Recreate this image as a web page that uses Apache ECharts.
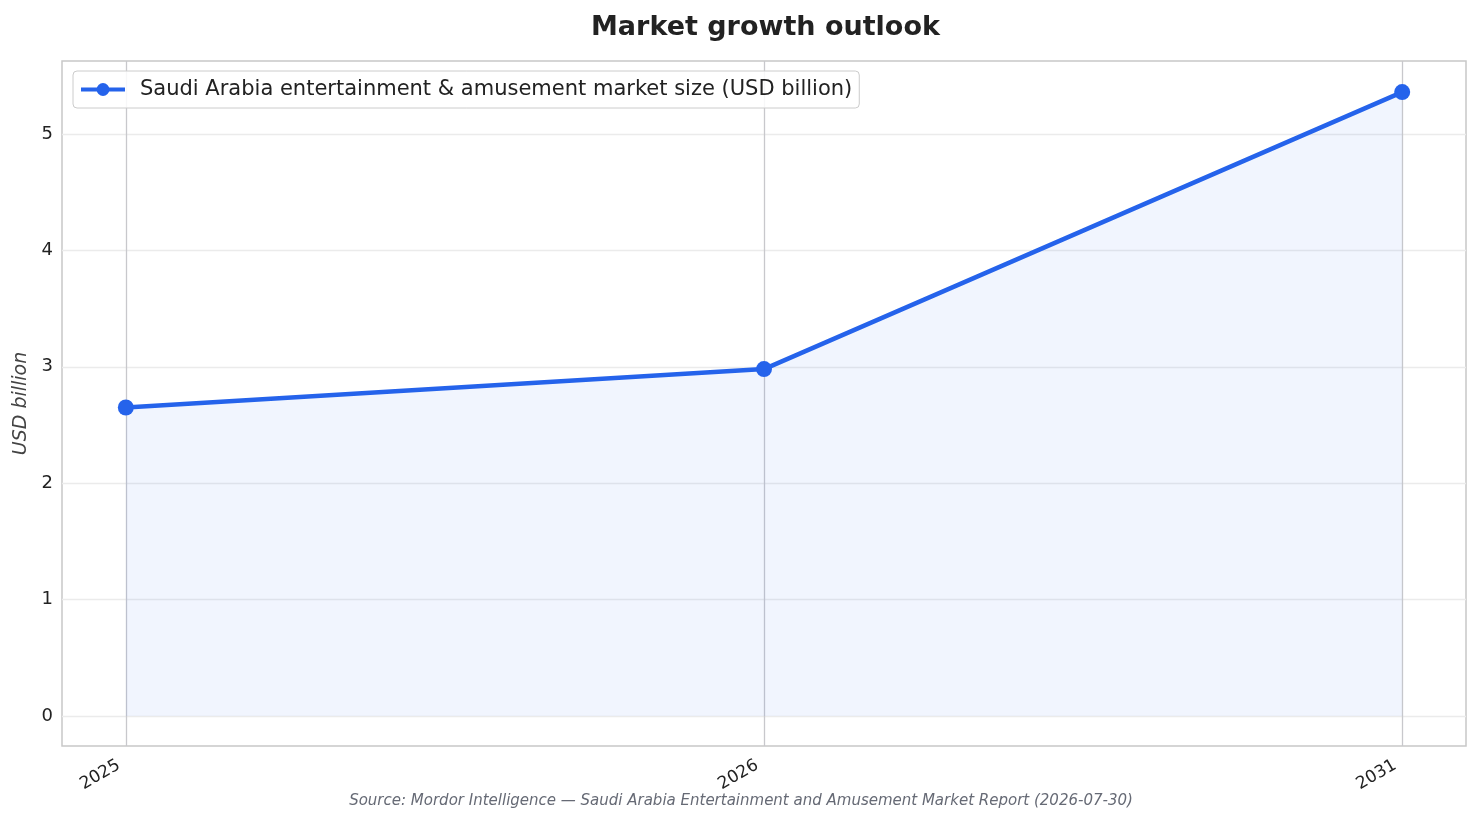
<!DOCTYPE html>
<html>
<head>
<meta charset="utf-8">
<script src="https://cdn.jsdelivr.net/npm/echarts@6/dist/echarts.min.js"></script>
<style>
  html, body { margin: 0; padding: 0; background: #fff; }
  #chart { width: 1482px; height: 824px; }
</style>
</head>
<body>
<div id="chart"></div>
<script>
var years = ['2025', '2026', '2031'];
var marketSize = [2.65, 2.98, 5.36];
var yTicks = [0, 1, 2, 3, 4, 5];

var seriesData = marketSize.map(function (v, i) { return [i, v]; });
var xTicks = years.map(function (y, i) { return i; });

var chart = echarts.init(document.getElementById('chart'));
var font = 'DejaVu Sans, sans-serif';

chart.setOption({
  animation: false,
  backgroundColor: '#fff',
  textStyle: { fontFamily: font },
  title: {
    text: 'Market growth outlook',
    left: 591,
    top: 14,
    padding: 0,
    textStyle: { fontSize: 27, fontWeight: 'bold', color: '#222', fontFamily: font }
  },
  legend: {
    left: 73,
    top: 71,
    padding: [8, 7, 8, 6],
    itemWidth: 44,
    itemHeight: 16,
    borderColor: '#cccccc',
    borderWidth: 1,
    borderRadius: 4,
    backgroundColor: 'rgba(255,255,255,0.85)',
    lineStyle: { width: 4 },
    textStyle: { fontSize: 21, color: '#222', fontFamily: font, padding: [0, 0, 0, 10] }
  },
  grid: {
    left: 62, right: 16, top: 61, bottom: 78,
    outerBoundsMode: 'none',
    containLabel: false,
    show: true,
    borderColor: '#c8c8c8',
    borderWidth: 1.5,
    backgroundColor: 'transparent'
  },
  xAxis: {
    type: 'value',
    min: -0.1,
    max: 2.1,
    axisLine: { show: false },
    axisTick: { show: false, customValues: xTicks },
    axisLabel: {
      customValues: xTicks,
      rotate: 30,
      margin: 14,
      padding: [0, 8, 0, 0],
      fontSize: 17,
      color: '#222',
      fontFamily: font,
      formatter: function (v) { return years[Math.round(v)]; }
    },
    splitLine: { show: true, lineStyle: { color: '#c8c8cc', width: 1.3 } }
  },
  yAxis: {
    type: 'value',
    min: -0.258,
    max: 5.627,
    name: 'USD billion',
    nameLocation: 'middle',
    nameGap: 30,
    nameTextStyle: { fontSize: 19, fontStyle: 'italic', color: '#444', fontFamily: font },
    axisLine: { show: false },
    axisTick: { show: false, customValues: yTicks },
    axisLabel: { customValues: yTicks, fontSize: 18, color: '#222', margin: 9, fontFamily: font },
    splitLine: { show: true, lineStyle: { color: '#ebebeb', width: 1.3 } }
  },
  series: [{
    name: 'Saudi Arabia entertainment & amusement market size (USD billion)',
    type: 'line',
    data: seriesData,
    symbol: 'circle',
    symbolSize: 16,
    lineStyle: { width: 4.5, color: '#2563eb' },
    itemStyle: { color: '#2563eb' },
    areaStyle: { color: 'rgba(37,99,235,0.09)' }
  }],
  graphic: [{
    type: 'text',
    left: 'center',
    top: 794,
    style: {
      text: 'Source: Mordor Intelligence \u2014 Saudi Arabia Entertainment and Amusement Market Report (2026-07-30)',
      font: 'italic 15px DejaVu Sans, sans-serif',
      fill: '#666a75'
    }
  }]
});
</script>
</body>
</html>
